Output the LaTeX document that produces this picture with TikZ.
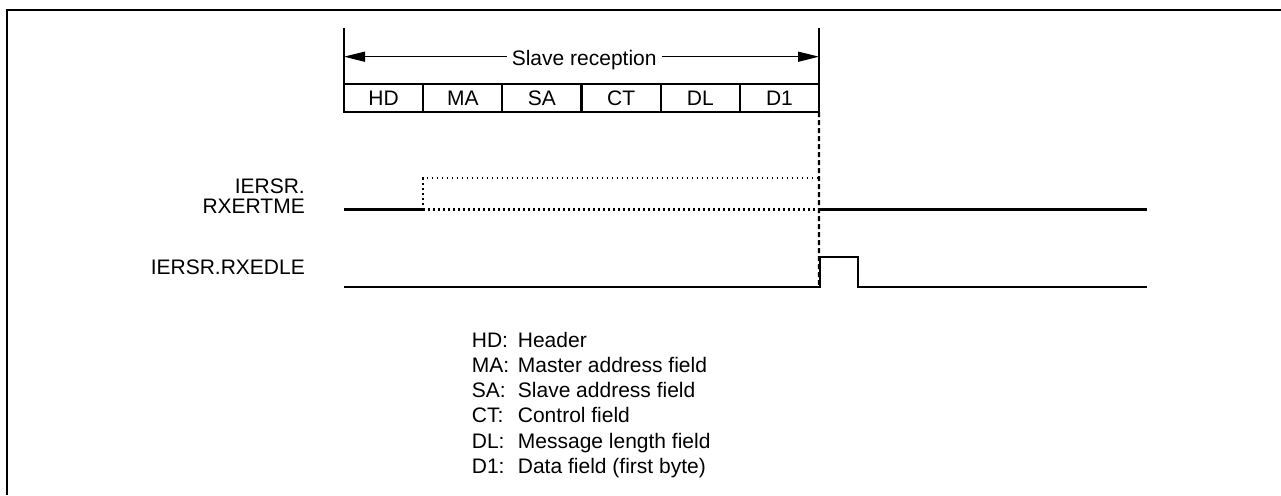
\documentclass[tikz,border=0pt]{standalone}
\usepackage{fontspec}
\setmainfont{Liberation Sans}
\usetikzlibrary{arrows.meta}
\begin{document}
\begin{tikzpicture}[x=1pt,y=-1pt,
  txt/.style={font=\fontsize{21}{24}\selectfont, inner sep=0pt},
  frameline/.style={line width=2.8pt},
  thinline/.style={line width=1.3pt},
  field/.style={draw, line width=2.2pt, minimum width=79.17pt, minimum height=28pt,
    inner sep=0pt, outer sep=0pt, anchor=north west, font=\fontsize{21}{24}\selectfont},
  sig/.style={line width=2.2pt},
  dotsig/.style={line width=2.2pt, dash pattern=on 1.8pt off 3.2pt},
  dashsig/.style={line width=2.2pt, dash pattern=on 5pt off 3pt}
]
\useasboundingbox (0,0) rectangle (1281,495);
% frame (top and left edges)
\draw[frameline] (7,495) -- (7,10) -- (1281,10);

% extent ticks
\coordinate (tl) at (344,28);
\coordinate (tr) at (819,28);
\coordinate (bl) at (344,84);
\coordinate (br) at (819,84);
\draw[thinline] (tl) -- (bl);
\draw[thinline] (tr) -- (br);

% Slave reception arrow
\coordinate (al) at (344,56.7);
\coordinate (ar) at (819,56.7);
\draw[thinline, {Triangle[length=21pt,width=10pt]}-{Triangle[length=21pt,width=10pt]}] (al) -- (ar);
\node[txt, fill=white, inner xsep=5pt, inner ysep=2pt, anchor=base] (sr) at (584.2,65.5) {Slave reception};

% fields
\foreach \lab [count=\i from 0] in {HD,MA,SA,CT,DL,D1}{
  \node[field] (f\i) at ({344+79.17*\i},84) {\lab};
}

% dashed timing line
\coordinate (dend) at (819,287);
\draw[dashsig] (f5.south east) -- (dend);

% signal labels
\node[txt, anchor=base east] (l1a) at (305,193) {IERSR.};
\node[txt, anchor=base east] (l1b) at (305,213) {RXERTME};
\node[txt, anchor=base east] (l2) at (305,274) {IERSR.RXEDLE};

% IERSR.RXERTME waveform
\coordinate (r0) at (344,209.5);
\coordinate (r1) at (423,209.5);
\coordinate (r2) at (423,178);
\coordinate (r3) at (819,178);
\coordinate (r4) at (819,209.5);
\coordinate (r5) at (1147,209.5);
\draw[sig] (r0) -- (r1);
\draw[dotsig] (r1) -- (r2) -- (r3);
\draw[dotsig] (r1) -- (r4);
\draw[sig] (r4) -- (r5);

% IERSR.RXEDLE waveform
\coordinate (e0) at (344,287);
\coordinate (e1) at (820,287);
\coordinate (e2) at (820,257);
\coordinate (e3) at (858,257);
\coordinate (e4) at (858,287);
\coordinate (e5) at (1147,287);
\draw[sig] (e0) -- (e1) -- (e2) -- (e3) -- (e4) -- (e5);

% legend
\foreach \ab/\de [count=\i from 0] in {HD:/Header, MA:/Master address field, SA:/Slave address field,
    CT:/Control field, DL:/Message length field, D1:/Data field (first byte)}{
  \node[txt, anchor=base west] (la\i) at (471.7,{347+25.3*\i}) {\ab};
  \node[txt, anchor=base west] (ld\i) at (517.7,{347+25.3*\i}) {\de};
}
\end{tikzpicture}
\end{document}
